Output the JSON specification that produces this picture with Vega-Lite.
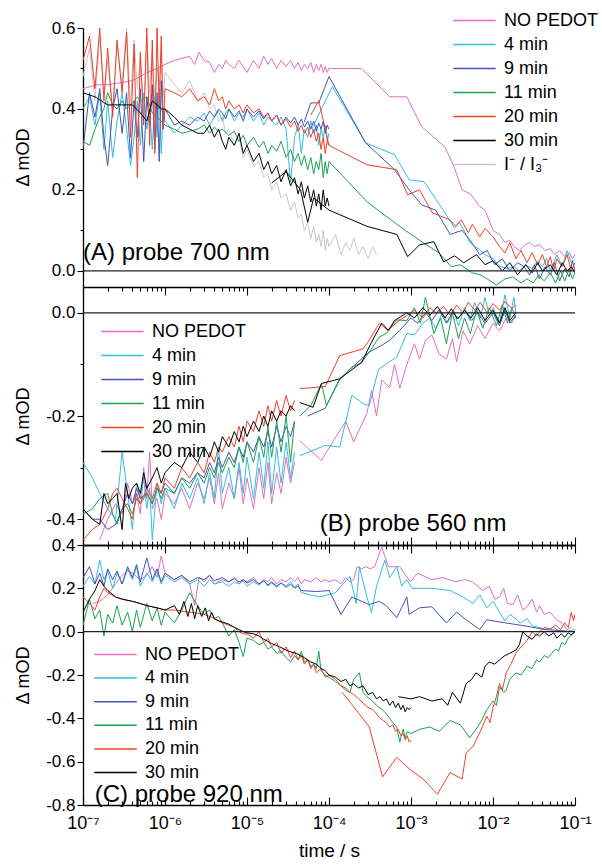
{
"$schema":"https://vega.github.io/schema/vega-lite/v6.json",
"padding":{"left":14,"top":11,"right":0,"bottom":0},
"spacing":0,
"bounds":"flush",
"resolve":{"scale":{"color":"independent"},"legend":{"color":"independent"}},
"config":{"view":{"stroke":null},"font":"Liberation Sans",
"axis":{"domainColor":"#000","domainWidth":1.3,"tickColor":"#000","tickWidth":1.1,"labelColor":"#000","labelFont":"Liberation Sans","labelFontSize":17,"titleFont":"Liberation Sans","titleFontWeight":"normal","titleColor":"#000","titleFontSize":18,"grid":false,"labelOverlap":false,"labelFlush":false},
"legend":{"orient":"none","title":null,"symbolType":"M-2.5,0H2.5","symbolSize":289,"symbolStrokeWidth":1.5,"labelFontSize":18,"labelFont":"Liberation Sans","labelColor":"#000","labelOffset":20,"padding":0,"labelLimit":300}},
"datasets":{
"A":[
{"s":"I","t":1e-7,"v":0.48},{"s":"I","t":1.2e-7,"v":0.55},{"s":"I","t":1.4e-7,"v":0.42},{"s":"I","t":1.6e-7,"v":0.58},{"s":"I","t":1.8e-7,"v":0.44},{"s":"I","t":2e-7,"v":0.52},{"s":"I","t":2.3e-7,"v":0.40},{"s":"I","t":2.6e-7,"v":0.56},{"s":"I","t":3e-7,"v":0.46},{"s":"I","t":3.4e-7,"v":0.60},{"s":"I","t":3.8e-7,"v":0.41},{"s":"I","t":4.2e-7,"v":0.57},{"s":"I","t":4.6e-7,"v":0.45},{"s":"I","t":5e-7,"v":0.53},{"s":"I","t":5.5e-7,"v":0.38},{"s":"I","t":6e-7,"v":0.58},{"s":"I","t":6.5e-7,"v":0.44},{"s":"I","t":7e-7,"v":0.55},{"s":"I","t":7.5e-7,"v":0.42},{"s":"I","t":8e-7,"v":0.50},{"s":"I","t":8.5e-7,"v":0.46},{"s":"I","t":9e-7,"v":0.54},{"s":"I","t":9.5e-7,"v":0.43},{"s":"I","t":1e-6,"v":0.49},{"s":"I","t":1.3e-6,"v":0.46},{"s":"I","t":1.6e-6,"v":0.44},{"s":"I","t":2e-6,"v":0.47},{"s":"I","t":2.5e-6,"v":0.42},{"s":"I","t":3e-6,"v":0.44},{"s":"I","t":3.5e-6,"v":0.40},{"s":"I","t":4e-6,"v":0.41},{"s":"I","t":4.5e-6,"v":0.37},{"s":"I","t":5e-6,"v":0.38},{"s":"I","t":5.5e-6,"v":0.34},{"s":"I","t":6e-6,"v":0.35},{"s":"I","t":7e-6,"v":0.31},{"s":"I","t":8e-6,"v":0.33},{"s":"I","t":9e-6,"v":0.28},{"s":"I","t":1e-5,"v":0.30},{"s":"I","t":1.2e-5,"v":0.26},{"s":"I","t":1.4e-5,"v":0.27},{"s":"I","t":1.6e-5,"v":0.23},{"s":"I","t":1.8e-5,"v":0.24},{"s":"I","t":2e-5,"v":0.20},{"s":"I","t":2.3e-5,"v":0.22},{"s":"I","t":2.6e-5,"v":0.18},{"s":"I","t":3e-5,"v":0.19},{"s":"I","t":3.4e-5,"v":0.15},{"s":"I","t":3.8e-5,"v":0.17},{"s":"I","t":4.2e-5,"v":0.13},{"s":"I","t":4.6e-5,"v":0.14},{"s":"I","t":5e-5,"v":0.10},{"s":"I","t":5.5e-5,"v":0.12},{"s":"I","t":6e-5,"v":0.08},{"s":"I","t":6.5e-5,"v":0.11},{"s":"I","t":7e-5,"v":0.07},{"s":"I","t":7.5e-5,"v":0.09},{"s":"I","t":8e-5,"v":0.06},{"s":"I","t":8.5e-5,"v":0.10},{"s":"I","t":9e-5,"v":0.05},{"s":"I","t":9.5e-5,"v":0.08},{"s":"I","t":1e-4,"v":0.06},{"s":"I","t":1.2e-4,"v":0.09},{"s":"I","t":1.4e-4,"v":0.04},{"s":"I","t":1.6e-4,"v":0.07},{"s":"I","t":1.8e-4,"v":0.05},{"s":"I","t":2e-4,"v":0.08},{"s":"I","t":2.3e-4,"v":0.04},{"s":"I","t":2.6e-4,"v":0.06},{"s":"I","t":3e-4,"v":0.03},{"s":"I","t":3.4e-4,"v":0.06},{"s":"I","t":3.8e-4,"v":0.04},
{"s":"N","t":1e-7,"v":0.45},{"s":"N","t":1.5e-7,"v":0.46},{"s":"N","t":2e-7,"v":0.46},{"s":"N","t":3e-7,"v":0.465},{"s":"N","t":4e-7,"v":0.47},{"s":"N","t":5e-7,"v":0.48},{"s":"N","t":6e-7,"v":0.49},{"s":"N","t":8e-7,"v":0.50},{"s":"N","t":1e-6,"v":0.51},{"s":"N","t":1.3e-6,"v":0.52},{"s":"N","t":1.6e-6,"v":0.525},{"s":"N","t":2e-6,"v":0.53},{"s":"N","t":2.3e-6,"v":0.51},{"s":"N","t":2.6e-6,"v":0.54},{"s":"N","t":3e-6,"v":0.52},{"s":"N","t":3.5e-6,"v":0.515},{"s":"N","t":4e-6,"v":0.49},{"s":"N","t":4.5e-6,"v":0.51},{"s":"N","t":5e-6,"v":0.50},{"s":"N","t":5.5e-6,"v":0.52},{"s":"N","t":6e-6,"v":0.51},{"s":"N","t":7e-6,"v":0.50},{"s":"N","t":8e-6,"v":0.52},{"s":"N","t":9e-6,"v":0.505},{"s":"N","t":1e-5,"v":0.49},{"s":"N","t":1.2e-5,"v":0.52},{"s":"N","t":1.4e-5,"v":0.50},{"s":"N","t":1.6e-5,"v":0.53},{"s":"N","t":1.8e-5,"v":0.51},{"s":"N","t":2e-5,"v":0.525},{"s":"N","t":2.3e-5,"v":0.50},{"s":"N","t":2.6e-5,"v":0.52},{"s":"N","t":3e-5,"v":0.505},{"s":"N","t":3.4e-5,"v":0.52},{"s":"N","t":3.8e-5,"v":0.50},{"s":"N","t":4.2e-5,"v":0.515},{"s":"N","t":4.6e-5,"v":0.495},{"s":"N","t":5e-5,"v":0.51},{"s":"N","t":5.5e-5,"v":0.50},{"s":"N","t":6e-5,"v":0.515},{"s":"N","t":6.5e-5,"v":0.49},{"s":"N","t":7e-5,"v":0.51},{"s":"N","t":7.5e-5,"v":0.495},{"s":"N","t":8e-5,"v":0.51},{"s":"N","t":8.5e-5,"v":0.49},{"s":"N","t":9e-5,"v":0.505},{"s":"N","t":9.5e-5,"v":0.49},{"s":"N","t":1e-4,"v":0.50},{"s":"N","t":2.5e-4,"v":0.50},{"s":"N","t":5.5e-4,"v":0.43},{"s":"N","t":8.9e-4,"v":0.43},{"s":"N","t":1.35e-3,"v":0.356},{"s":"N","t":2.6e-3,"v":0.306},{"s":"N","t":3.3e-3,"v":0.26},{"s":"N","t":4.2e-3,"v":0.20},{"s":"N","t":5.3e-3,"v":0.19},{"s":"N","t":6.8e-3,"v":0.16},{"s":"N","t":8e-3,"v":0.15},{"s":"N","t":1e-2,"v":0.10},{"s":"N","t":1.2e-2,"v":0.09},{"s":"N","t":1.4e-2,"v":0.07},{"s":"N","t":1.6e-2,"v":0.075},{"s":"N","t":1.8e-2,"v":0.06},{"s":"N","t":2.1e-2,"v":0.05},{"s":"N","t":2.5e-2,"v":0.065},{"s":"N","t":2.8e-2,"v":0.07},{"s":"N","t":3.2e-2,"v":0.06},{"s":"N","t":3.7e-2,"v":0.065},{"s":"N","t":4.3e-2,"v":0.05},{"s":"N","t":5e-2,"v":0.055},{"s":"N","t":5.6e-2,"v":0.04},{"s":"N","t":6.5e-2,"v":0.05},{"s":"N","t":7.5e-2,"v":0.035},{"s":"N","t":8.5e-2,"v":0.045},{"s":"N","t":9.3e-2,"v":0.03},{"s":"N","t":0.1,"v":0.04},
{"s":"4","t":1e-7,"v":0.40},{"s":"4","t":1.2e-7,"v":0.43},{"s":"4","t":1.4e-7,"v":0.36},{"s":"4","t":1.6e-7,"v":0.44},{"s":"4","t":1.8e-7,"v":0.30},{"s":"4","t":2e-7,"v":0.42},{"s":"4","t":2.3e-7,"v":0.28},{"s":"4","t":2.6e-7,"v":0.37},{"s":"4","t":3e-7,"v":0.44},{"s":"4","t":3.4e-7,"v":0.35},{"s":"4","t":3.8e-7,"v":0.26},{"s":"4","t":4.2e-7,"v":0.33},{"s":"4","t":4.6e-7,"v":0.42},{"s":"4","t":5e-7,"v":0.31},{"s":"4","t":5.5e-7,"v":0.44},{"s":"4","t":6e-7,"v":0.35},{"s":"4","t":6.5e-7,"v":0.40},{"s":"4","t":7e-7,"v":0.30},{"s":"4","t":7.5e-7,"v":0.43},{"s":"4","t":8e-7,"v":0.33},{"s":"4","t":8.5e-7,"v":0.45},{"s":"4","t":9e-7,"v":0.29},{"s":"4","t":9.5e-7,"v":0.40},{"s":"4","t":1e-6,"v":0.37},{"s":"4","t":1.3e-6,"v":0.34},{"s":"4","t":1.6e-6,"v":0.36},{"s":"4","t":2e-6,"v":0.38},{"s":"4","t":2.5e-6,"v":0.37},{"s":"4","t":3e-6,"v":0.39},{"s":"4","t":3.5e-6,"v":0.36},{"s":"4","t":4e-6,"v":0.38},{"s":"4","t":4.5e-6,"v":0.395},{"s":"4","t":5e-6,"v":0.37},{"s":"4","t":5.5e-6,"v":0.39},{"s":"4","t":6e-6,"v":0.40},{"s":"4","t":7e-6,"v":0.37},{"s":"4","t":8e-6,"v":0.39},{"s":"4","t":9e-6,"v":0.38},{"s":"4","t":1e-5,"v":0.40},{"s":"4","t":1.2e-5,"v":0.37},{"s":"4","t":1.4e-5,"v":0.39},{"s":"4","t":1.6e-5,"v":0.36},{"s":"4","t":1.8e-5,"v":0.38},{"s":"4","t":2e-5,"v":0.37},{"s":"4","t":2.3e-5,"v":0.36},{"s":"4","t":2.6e-5,"v":0.38},{"s":"4","t":3e-5,"v":0.35},{"s":"4","t":3.4e-5,"v":0.22},{"s":"4","t":3.8e-5,"v":0.33},{"s":"4","t":4.2e-5,"v":0.36},{"s":"4","t":4.6e-5,"v":0.29},{"s":"4","t":5e-5,"v":0.35},{"s":"4","t":5.5e-5,"v":0.33},{"s":"4","t":6e-5,"v":0.37},{"s":"4","t":6.5e-5,"v":0.34},{"s":"4","t":7e-5,"v":0.36},{"s":"4","t":7.5e-5,"v":0.31},{"s":"4","t":8e-5,"v":0.35},{"s":"4","t":8.5e-5,"v":0.33},{"s":"4","t":9e-5,"v":0.36},{"s":"4","t":9.5e-5,"v":0.32},{"s":"4","t":1e-4,"v":0.34},
{"s":"4s","t":6.5e-5,"v":0.36},{"s":"4s","t":1.1e-4,"v":0.455},{"s":"4s","t":2.8e-4,"v":0.316},{"s":"4s","t":6.3e-4,"v":0.287},{"s":"4s","t":9.5e-4,"v":0.225},{"s":"4s","t":1.45e-3,"v":0.22},{"s":"4s","t":2.6e-3,"v":0.143},{"s":"4s","t":3.4e-3,"v":0.106},{"s":"4s","t":3.9e-3,"v":0.12},{"s":"4s","t":4.6e-3,"v":0.094},{"s":"4s","t":5.2e-3,"v":0.07},{"s":"4s","t":6e-3,"v":0.06},{"s":"4s","t":6.9e-3,"v":0.052},{"s":"4s","t":8e-3,"v":0.04},{"s":"4s","t":1e-2,"v":0.03},{"s":"4s","t":1.2e-2,"v":0.012},{"s":"4s","t":1.5e-2,"v":0.005},{"s":"4s","t":1.8e-2,"v":0.01},{"s":"4s","t":2.1e-2,"v":0.0},{"s":"4s","t":2.5e-2,"v":0.015},{"s":"4s","t":3e-2,"v":0.005},{"s":"4s","t":3.5e-2,"v":0.025},{"s":"4s","t":4e-2,"v":0.01},{"s":"4s","t":4.5e-2,"v":0.03},{"s":"4s","t":5e-2,"v":0.0},{"s":"4s","t":5.5e-2,"v":0.02},{"s":"4s","t":6e-2,"v":0.04},{"s":"4s","t":7e-2,"v":0.01},{"s":"4s","t":8e-2,"v":0.05},{"s":"4s","t":9e-2,"v":0.02},{"s":"4s","t":0.1,"v":0.03},
{"s":"9","t":1e-7,"v":0.30},{"s":"9","t":1.2e-7,"v":0.44},{"s":"9","t":1.4e-7,"v":0.38},{"s":"9","t":1.6e-7,"v":0.45},{"s":"9","t":1.8e-7,"v":0.33},{"s":"9","t":2e-7,"v":0.26},{"s":"9","t":2.3e-7,"v":0.40},{"s":"9","t":2.6e-7,"v":0.45},{"s":"9","t":3e-7,"v":0.34},{"s":"9","t":3.4e-7,"v":0.44},{"s":"9","t":3.8e-7,"v":0.28},{"s":"9","t":4.2e-7,"v":0.42},{"s":"9","t":4.6e-7,"v":0.33},{"s":"9","t":5e-7,"v":0.45},{"s":"9","t":5.5e-7,"v":0.27},{"s":"9","t":6e-7,"v":0.43},{"s":"9","t":6.5e-7,"v":0.36},{"s":"9","t":7e-7,"v":0.46},{"s":"9","t":7.5e-7,"v":0.30},{"s":"9","t":8e-7,"v":0.44},{"s":"9","t":8.5e-7,"v":0.27},{"s":"9","t":9e-7,"v":0.47},{"s":"9","t":9.5e-7,"v":0.35},{"s":"9","t":1e-6,"v":0.40},{"s":"9","t":1.3e-6,"v":0.36},{"s":"9","t":1.6e-6,"v":0.37},{"s":"9","t":2e-6,"v":0.36},{"s":"9","t":2.5e-6,"v":0.38},{"s":"9","t":3e-6,"v":0.37},{"s":"9","t":3.5e-6,"v":0.395},{"s":"9","t":4e-6,"v":0.38},{"s":"9","t":4.5e-6,"v":0.40},{"s":"9","t":5e-6,"v":0.39},{"s":"9","t":5.5e-6,"v":0.375},{"s":"9","t":6e-6,"v":0.40},{"s":"9","t":7e-6,"v":0.38},{"s":"9","t":8e-6,"v":0.395},{"s":"9","t":9e-6,"v":0.37},{"s":"9","t":1e-5,"v":0.40},{"s":"9","t":1.2e-5,"v":0.38},{"s":"9","t":1.4e-5,"v":0.395},{"s":"9","t":1.6e-5,"v":0.375},{"s":"9","t":1.8e-5,"v":0.39},{"s":"9","t":2e-5,"v":0.37},{"s":"9","t":2.3e-5,"v":0.385},{"s":"9","t":2.6e-5,"v":0.36},{"s":"9","t":3e-5,"v":0.38},{"s":"9","t":3.4e-5,"v":0.365},{"s":"9","t":3.8e-5,"v":0.38},{"s":"9","t":4.2e-5,"v":0.36},{"s":"9","t":4.6e-5,"v":0.375},{"s":"9","t":5e-5,"v":0.355},{"s":"9","t":5.5e-5,"v":0.37},{"s":"9","t":6e-5,"v":0.35},{"s":"9","t":6.5e-5,"v":0.37},{"s":"9","t":7e-5,"v":0.345},{"s":"9","t":7.5e-5,"v":0.365},{"s":"9","t":8e-5,"v":0.35},{"s":"9","t":8.5e-5,"v":0.37},{"s":"9","t":9e-5,"v":0.34},{"s":"9","t":9.5e-5,"v":0.36},{"s":"9","t":1e-4,"v":0.35},
{"s":"9s","t":5e-5,"v":0.368},{"s":"9s","t":6e-5,"v":0.415},{"s":"9s","t":7.5e-5,"v":0.415},{"s":"9s","t":1e-4,"v":0.48},{"s":"9s","t":2.8e-4,"v":0.316},{"s":"9s","t":6.3e-4,"v":0.25},{"s":"9s","t":9.5e-4,"v":0.20},{"s":"9s","t":1.35e-3,"v":0.163},{"s":"9s","t":2e-3,"v":0.15},{"s":"9s","t":3e-3,"v":0.09},{"s":"9s","t":4.2e-3,"v":0.10},{"s":"9s","t":5.2e-3,"v":0.077},{"s":"9s","t":6.9e-3,"v":0.04},{"s":"9s","t":8.5e-3,"v":0.05},{"s":"9s","t":1.05e-2,"v":0.015},{"s":"9s","t":1.3e-2,"v":0.03},{"s":"9s","t":1.6e-2,"v":0.0},{"s":"9s","t":2e-2,"v":0.02},{"s":"9s","t":2.4e-2,"v":0.01},{"s":"9s","t":2.8e-2,"v":-0.01},{"s":"9s","t":3.2e-2,"v":0.015},{"s":"9s","t":3.7e-2,"v":-0.02},{"s":"9s","t":4.3e-2,"v":0.01},{"s":"9s","t":5e-2,"v":-0.01},{"s":"9s","t":5.6e-2,"v":0.02},{"s":"9s","t":6.5e-2,"v":-0.025},{"s":"9s","t":7.5e-2,"v":0.005},{"s":"9s","t":8.5e-2,"v":-0.015},{"s":"9s","t":9.3e-2,"v":0.025},{"s":"9s","t":0.1,"v":0.0},
{"s":"11","t":1e-7,"v":0.32},{"s":"11","t":1.2e-7,"v":0.31},{"s":"11","t":1.4e-7,"v":0.35},{"s":"11","t":1.6e-7,"v":0.38},{"s":"11","t":1.8e-7,"v":0.40},{"s":"11","t":2e-7,"v":0.44},{"s":"11","t":2.3e-7,"v":0.41},{"s":"11","t":2.6e-7,"v":0.40},{"s":"11","t":3e-7,"v":0.42},{"s":"11","t":3.4e-7,"v":0.40},{"s":"11","t":3.8e-7,"v":0.41},{"s":"11","t":4.2e-7,"v":0.42},{"s":"11","t":4.6e-7,"v":0.43},{"s":"11","t":5e-7,"v":0.42},{"s":"11","t":6e-7,"v":0.43},{"s":"11","t":7e-7,"v":0.39},{"s":"11","t":8e-7,"v":0.38},{"s":"11","t":9e-7,"v":0.37},{"s":"11","t":1e-6,"v":0.36},{"s":"11","t":1.3e-6,"v":0.35},{"s":"11","t":1.6e-6,"v":0.34},{"s":"11","t":2e-6,"v":0.345},{"s":"11","t":2.5e-6,"v":0.35},{"s":"11","t":3e-6,"v":0.36},{"s":"11","t":3.5e-6,"v":0.34},{"s":"11","t":4e-6,"v":0.355},{"s":"11","t":4.5e-6,"v":0.345},{"s":"11","t":5e-6,"v":0.35},{"s":"11","t":6e-6,"v":0.335},{"s":"11","t":7e-6,"v":0.345},{"s":"11","t":8e-6,"v":0.32},{"s":"11","t":9e-6,"v":0.335},{"s":"11","t":1e-5,"v":0.31},{"s":"11","t":1.2e-5,"v":0.33},{"s":"11","t":1.4e-5,"v":0.305},{"s":"11","t":1.6e-5,"v":0.32},{"s":"11","t":1.8e-5,"v":0.29},{"s":"11","t":2e-5,"v":0.31},{"s":"11","t":2.3e-5,"v":0.295},{"s":"11","t":2.6e-5,"v":0.32},{"s":"11","t":3e-5,"v":0.28},{"s":"11","t":3.4e-5,"v":0.30},{"s":"11","t":3.8e-5,"v":0.27},{"s":"11","t":4.2e-5,"v":0.29},{"s":"11","t":4.6e-5,"v":0.26},{"s":"11","t":5e-5,"v":0.285},{"s":"11","t":5.5e-5,"v":0.25},{"s":"11","t":6e-5,"v":0.28},{"s":"11","t":6.5e-5,"v":0.24},{"s":"11","t":7e-5,"v":0.27},{"s":"11","t":7.5e-5,"v":0.25},{"s":"11","t":8e-5,"v":0.29},{"s":"11","t":8.5e-5,"v":0.23},{"s":"11","t":9e-5,"v":0.27},{"s":"11","t":9.5e-5,"v":0.24},{"s":"11","t":1e-4,"v":0.27},{"s":"11","t":3e-4,"v":0.168},{"s":"11","t":8.5e-4,"v":0.10},{"s":"11","t":1.4e-3,"v":0.07},{"s":"11","t":2.2e-3,"v":0.044},{"s":"11","t":3.1e-3,"v":0.01},{"s":"11","t":4e-3,"v":0.015},{"s":"11","t":5.6e-3,"v":-0.005},{"s":"11","t":7e-3,"v":-0.01},{"s":"11","t":8.5e-3,"v":-0.02},{"s":"11","t":1.1e-2,"v":-0.035},{"s":"11","t":1.4e-2,"v":-0.02},{"s":"11","t":1.75e-2,"v":-0.015},{"s":"11","t":2.2e-2,"v":-0.03},{"s":"11","t":2.6e-2,"v":-0.02},{"s":"11","t":3.1e-2,"v":-0.03},{"s":"11","t":3.6e-2,"v":-0.01},{"s":"11","t":4.2e-2,"v":-0.025},{"s":"11","t":5e-2,"v":-0.005},{"s":"11","t":5.8e-2,"v":-0.03},{"s":"11","t":6.7e-2,"v":0.0},{"s":"11","t":7.5e-2,"v":-0.025},{"s":"11","t":8.5e-2,"v":0.005},{"s":"11","t":9.3e-2,"v":-0.02},{"s":"11","t":0.1,"v":-0.005},
{"s":"20","t":1e-7,"v":0.52},{"s":"20","t":1.2e-7,"v":0.58},{"s":"20","t":1.4e-7,"v":0.45},{"s":"20","t":1.6e-7,"v":0.60},{"s":"20","t":1.8e-7,"v":0.42},{"s":"20","t":2e-7,"v":0.55},{"s":"20","t":2.3e-7,"v":0.38},{"s":"20","t":2.6e-7,"v":0.57},{"s":"20","t":3e-7,"v":0.44},{"s":"20","t":3.4e-7,"v":0.59},{"s":"20","t":3.8e-7,"v":0.33},{"s":"20","t":4.2e-7,"v":0.56},{"s":"20","t":4.6e-7,"v":0.23},{"s":"20","t":5e-7,"v":0.54},{"s":"20","t":5.5e-7,"v":0.36},{"s":"20","t":6e-7,"v":0.60},{"s":"20","t":6.5e-7,"v":0.31},{"s":"20","t":7e-7,"v":0.57},{"s":"20","t":7.5e-7,"v":0.29},{"s":"20","t":8e-7,"v":0.60},{"s":"20","t":8.5e-7,"v":0.40},{"s":"20","t":9e-7,"v":0.58},{"s":"20","t":9.5e-7,"v":0.35},{"s":"20","t":1e-6,"v":0.45},{"s":"20","t":1.3e-6,"v":0.44},{"s":"20","t":1.6e-6,"v":0.43},{"s":"20","t":2e-6,"v":0.45},{"s":"20","t":2.5e-6,"v":0.42},{"s":"20","t":3e-6,"v":0.43},{"s":"20","t":3.5e-6,"v":0.41},{"s":"20","t":4e-6,"v":0.45},{"s":"20","t":4.5e-6,"v":0.42},{"s":"20","t":5e-6,"v":0.43},{"s":"20","t":5.5e-6,"v":0.40},{"s":"20","t":6e-6,"v":0.42},{"s":"20","t":7e-6,"v":0.40},{"s":"20","t":8e-6,"v":0.41},{"s":"20","t":9e-6,"v":0.39},{"s":"20","t":1e-5,"v":0.41},{"s":"20","t":1.2e-5,"v":0.39},{"s":"20","t":1.4e-5,"v":0.40},{"s":"20","t":1.6e-5,"v":0.38},{"s":"20","t":1.8e-5,"v":0.39},{"s":"20","t":2e-5,"v":0.37},{"s":"20","t":2.3e-5,"v":0.385},{"s":"20","t":2.6e-5,"v":0.36},{"s":"20","t":3e-5,"v":0.375},{"s":"20","t":3.4e-5,"v":0.355},{"s":"20","t":3.8e-5,"v":0.37},{"s":"20","t":4.2e-5,"v":0.345},{"s":"20","t":4.6e-5,"v":0.36},{"s":"20","t":5e-5,"v":0.34},{"s":"20","t":5.5e-5,"v":0.355},{"s":"20","t":6e-5,"v":0.33},{"s":"20","t":6.5e-5,"v":0.35},{"s":"20","t":7e-5,"v":0.32},{"s":"20","t":7.5e-5,"v":0.34},{"s":"20","t":8e-5,"v":0.30},{"s":"20","t":8.5e-5,"v":0.33},{"s":"20","t":9e-5,"v":0.29},{"s":"20","t":9.5e-5,"v":0.32},{"s":"20","t":1e-4,"v":0.31},
{"s":"20s","t":6e-5,"v":0.385},{"s":"20s","t":7.5e-5,"v":0.42},{"s":"20s","t":1e-4,"v":0.31},{"s":"20s","t":2.9e-4,"v":0.262},{"s":"20s","t":6.7e-4,"v":0.25},{"s":"20s","t":9.1e-4,"v":0.188},{"s":"20s","t":1.27e-3,"v":0.20},{"s":"20s","t":1.83e-3,"v":0.143},{"s":"20s","t":3e-3,"v":0.126},{"s":"20s","t":3.5e-3,"v":0.11},{"s":"20s","t":4.1e-3,"v":0.126},{"s":"20s","t":5e-3,"v":0.094},{"s":"20s","t":5.6e-3,"v":0.115},{"s":"20s","t":6.9e-3,"v":0.084},{"s":"20s","t":8e-3,"v":0.105},{"s":"20s","t":1e-2,"v":0.084},{"s":"20s","t":1.2e-2,"v":0.06},{"s":"20s","t":1.4e-2,"v":0.044},{"s":"20s","t":1.6e-2,"v":0.07},{"s":"20s","t":1.9e-2,"v":0.03},{"s":"20s","t":2.2e-2,"v":0.05},{"s":"20s","t":2.6e-2,"v":0.02},{"s":"20s","t":3e-2,"v":0.045},{"s":"20s","t":3.5e-2,"v":0.015},{"s":"20s","t":4e-2,"v":0.04},{"s":"20s","t":4.5e-2,"v":0.01},{"s":"20s","t":5e-2,"v":0.035},{"s":"20s","t":5.5e-2,"v":0.0},{"s":"20s","t":6e-2,"v":0.03},{"s":"20s","t":7e-2,"v":0.01},{"s":"20s","t":8e-2,"v":0.04},{"s":"20s","t":9e-2,"v":0.0},{"s":"20s","t":0.1,"v":0.02},
{"s":"30","t":1e-7,"v":0.44},{"s":"30","t":1.4e-7,"v":0.43},{"s":"30","t":2e-7,"v":0.41},{"s":"30","t":3e-7,"v":0.41},{"s":"30","t":4e-7,"v":0.41},{"s":"30","t":5e-7,"v":0.39},{"s":"30","t":6e-7,"v":0.37},{"s":"30","t":7e-7,"v":0.42},{"s":"30","t":8e-7,"v":0.41},{"s":"30","t":9e-7,"v":0.40},{"s":"30","t":1e-6,"v":0.40},{"s":"30","t":1.3e-6,"v":0.38},{"s":"30","t":1.6e-6,"v":0.36},{"s":"30","t":2e-6,"v":0.35},{"s":"30","t":2.5e-6,"v":0.34},{"s":"30","t":3e-6,"v":0.34},{"s":"30","t":3.5e-6,"v":0.36},{"s":"30","t":4e-6,"v":0.33},{"s":"30","t":4.5e-6,"v":0.35},{"s":"30","t":5e-6,"v":0.32},{"s":"30","t":5.5e-6,"v":0.30},{"s":"30","t":6e-6,"v":0.33},{"s":"30","t":7e-6,"v":0.31},{"s":"30","t":8e-6,"v":0.34},{"s":"30","t":9e-6,"v":0.29},{"s":"30","t":1e-5,"v":0.31},{"s":"30","t":1.2e-5,"v":0.27},{"s":"30","t":1.4e-5,"v":0.29},{"s":"30","t":1.6e-5,"v":0.25},{"s":"30","t":1.8e-5,"v":0.27},{"s":"30","t":2e-5,"v":0.24},{"s":"30","t":2.3e-5,"v":0.26},{"s":"30","t":2.6e-5,"v":0.22},{"s":"30","t":3e-5,"v":0.25},{"s":"30","t":3.4e-5,"v":0.21},{"s":"30","t":3.8e-5,"v":0.23},{"s":"30","t":4.2e-5,"v":0.19},{"s":"30","t":4.6e-5,"v":0.22},{"s":"30","t":5e-5,"v":0.18},{"s":"30","t":5.5e-5,"v":0.21},{"s":"30","t":6e-5,"v":0.17},{"s":"30","t":6.5e-5,"v":0.20},{"s":"30","t":7e-5,"v":0.16},{"s":"30","t":7.5e-5,"v":0.19},{"s":"30","t":8e-5,"v":0.15},{"s":"30","t":8.5e-5,"v":0.20},{"s":"30","t":9e-5,"v":0.16},{"s":"30","t":9.5e-5,"v":0.18},{"s":"30","t":1e-4,"v":0.16},
{"s":"30s","t":2e-5,"v":0.217},{"s":"30s","t":3e-5,"v":0.245},{"s":"30s","t":4.5e-5,"v":0.20},{"s":"30s","t":5.5e-5,"v":0.12},{"s":"30s","t":6.5e-5,"v":0.18},{"s":"30s","t":1e-4,"v":0.15},{"s":"30s","t":2.9e-4,"v":0.11},{"s":"30s","t":6.7e-4,"v":0.09},{"s":"30s","t":9.1e-4,"v":0.035},{"s":"30s","t":1.27e-3,"v":0.064},{"s":"30s","t":1.9e-3,"v":0.072},{"s":"30s","t":2.5e-3,"v":0.022},{"s":"30s","t":3.4e-3,"v":0.037},{"s":"30s","t":4.4e-3,"v":0.02},{"s":"30s","t":6.3e-3,"v":0.04},{"s":"30s","t":8e-3,"v":0.015},{"s":"30s","t":1e-2,"v":0.025},{"s":"30s","t":1.3e-2,"v":0.0},{"s":"30s","t":1.6e-2,"v":0.02},{"s":"30s","t":2e-2,"v":-0.01},{"s":"30s","t":2.5e-2,"v":0.015},{"s":"30s","t":3e-2,"v":-0.005},{"s":"30s","t":3.5e-2,"v":0.02},{"s":"30s","t":4e-2,"v":0.0},{"s":"30s","t":5e-2,"v":0.015},{"s":"30s","t":6e-2,"v":-0.01},{"s":"30s","t":7e-2,"v":0.02},{"s":"30s","t":8e-2,"v":0.0},{"s":"30s","t":9e-2,"v":0.01},{"s":"30s","t":0.1,"v":-0.005}
],
"B":[
{"s":"N","t":1.6e-7,"v":-0.44},{"s":"N","t":2e-7,"v":-0.40},{"s":"N","t":2.5e-7,"v":-0.37},{"s":"N","t":3e-7,"v":-0.39},{"s":"N","t":3.5e-7,"v":-0.33},{"s":"N","t":4e-7,"v":-0.37},{"s":"N","t":4.5e-7,"v":-0.35},{"s":"N","t":5e-7,"v":-0.39},{"s":"N","t":5.5e-7,"v":-0.30},{"s":"N","t":6e-7,"v":-0.36},{"s":"N","t":6.5e-7,"v":-0.27},{"s":"N","t":7e-7,"v":-0.38},{"s":"N","t":8e-7,"v":-0.36},{"s":"N","t":9e-7,"v":-0.40},{"s":"N","t":1e-6,"v":-0.35},{"s":"N","t":1.3e-6,"v":-0.37},{"s":"N","t":1.6e-6,"v":-0.34},{"s":"N","t":2e-6,"v":-0.38},{"s":"N","t":2.5e-6,"v":-0.33},{"s":"N","t":3e-6,"v":-0.36},{"s":"N","t":3.5e-6,"v":-0.32},{"s":"N","t":4e-6,"v":-0.37},{"s":"N","t":4.5e-6,"v":-0.31},{"s":"N","t":5e-6,"v":-0.38},{"s":"N","t":6e-6,"v":-0.33},{"s":"N","t":7e-6,"v":-0.36},{"s":"N","t":8e-6,"v":-0.30},{"s":"N","t":9e-6,"v":-0.37},{"s":"N","t":1e-5,"v":-0.32},{"s":"N","t":1.2e-5,"v":-0.38},{"s":"N","t":1.4e-5,"v":-0.30},{"s":"N","t":1.6e-5,"v":-0.36},{"s":"N","t":1.8e-5,"v":-0.29},{"s":"N","t":2e-5,"v":-0.37},{"s":"N","t":2.3e-5,"v":-0.31},{"s":"N","t":2.6e-5,"v":-0.35},{"s":"N","t":3e-5,"v":-0.28},{"s":"N","t":3.4e-5,"v":-0.33},{"s":"N","t":3.8e-5,"v":-0.29},
{"s":"Ns","t":4.4e-5,"v":-0.248},{"s":"Ns","t":8.1e-5,"v":-0.286},{"s":"Ns","t":9.3e-5,"v":-0.27},{"s":"Ns","t":1.6e-4,"v":-0.21},{"s":"Ns","t":2e-4,"v":-0.25},{"s":"Ns","t":2.9e-4,"v":-0.195},{"s":"Ns","t":3.3e-4,"v":-0.15},{"s":"Ns","t":3.8e-4,"v":-0.2},{"s":"Ns","t":4.4e-4,"v":-0.13},{"s":"Ns","t":5.5e-4,"v":-0.145},{"s":"Ns","t":6.3e-4,"v":-0.1},{"s":"Ns","t":7.3e-4,"v":-0.146},{"s":"Ns","t":8.9e-4,"v":-0.1},{"s":"Ns","t":1.1e-3,"v":-0.06},{"s":"Ns","t":1.27e-3,"v":-0.09},{"s":"Ns","t":1.5e-3,"v":-0.053},{"s":"Ns","t":1.8e-3,"v":-0.043},{"s":"Ns","t":2.2e-3,"v":-0.08},{"s":"Ns","t":2.7e-3,"v":-0.09},{"s":"Ns","t":3.2e-3,"v":-0.05},{"s":"Ns","t":3.6e-3,"v":-0.095},{"s":"Ns","t":4.3e-3,"v":-0.035},{"s":"Ns","t":5.2e-3,"v":-0.06},{"s":"Ns","t":6.5e-3,"v":-0.025},{"s":"Ns","t":8e-3,"v":-0.05},{"s":"Ns","t":1e-2,"v":-0.02},{"s":"Ns","t":1.2e-2,"v":-0.035},{"s":"Ns","t":1.45e-2,"v":-0.01},{"s":"Ns","t":1.7e-2,"v":-0.02},{"s":"Ns","t":1.9e-2,"v":-0.005},
{"s":"4","t":1e-7,"v":-0.29},{"s":"4","t":1.3e-7,"v":-0.32},{"s":"4","t":1.6e-7,"v":-0.35},{"s":"4","t":2e-7,"v":-0.38},{"s":"4","t":2.5e-7,"v":-0.40},{"s":"4","t":3e-7,"v":-0.27},{"s":"4","t":3.5e-7,"v":-0.35},{"s":"4","t":4e-7,"v":-0.42},{"s":"4","t":4.5e-7,"v":-0.33},{"s":"4","t":5e-7,"v":-0.36},{"s":"4","t":5.5e-7,"v":-0.32},{"s":"4","t":6e-7,"v":-0.38},{"s":"4","t":6.5e-7,"v":-0.34},{"s":"4","t":7e-7,"v":-0.44},{"s":"4","t":8e-7,"v":-0.33},{"s":"4","t":9e-7,"v":-0.37},{"s":"4","t":1e-6,"v":-0.34},{"s":"4","t":1.3e-6,"v":-0.38},{"s":"4","t":1.6e-6,"v":-0.33},{"s":"4","t":2e-6,"v":-0.36},{"s":"4","t":2.5e-6,"v":-0.32},{"s":"4","t":3e-6,"v":-0.37},{"s":"4","t":3.5e-6,"v":-0.31},{"s":"4","t":4e-6,"v":-0.36},{"s":"4","t":4.5e-6,"v":-0.26},{"s":"4","t":5e-6,"v":-0.35},{"s":"4","t":6e-6,"v":-0.30},{"s":"4","t":7e-6,"v":-0.36},{"s":"4","t":8e-6,"v":-0.29},{"s":"4","t":9e-6,"v":-0.35},{"s":"4","t":1e-5,"v":-0.28},{"s":"4","t":1.2e-5,"v":-0.36},{"s":"4","t":1.4e-5,"v":-0.27},{"s":"4","t":1.6e-5,"v":-0.34},{"s":"4","t":1.8e-5,"v":-0.25},{"s":"4","t":2e-5,"v":-0.35},{"s":"4","t":2.3e-5,"v":-0.26},{"s":"4","t":2.6e-5,"v":-0.33},{"s":"4","t":3e-5,"v":-0.25},{"s":"4","t":3.4e-5,"v":-0.32},{"s":"4","t":3.8e-5,"v":-0.27},
{"s":"4s","t":4.4e-5,"v":-0.277},{"s":"4s","t":9e-5,"v":-0.257},{"s":"4s","t":1.35e-4,"v":-0.26},{"s":"4s","t":1.9e-4,"v":-0.16},{"s":"4s","t":2.6e-4,"v":-0.176},{"s":"4s","t":3.1e-4,"v":-0.18},{"s":"4s","t":4e-4,"v":-0.11},{"s":"4s","t":5.3e-4,"v":-0.096},{"s":"4s","t":6.7e-4,"v":-0.086},{"s":"4s","t":8.9e-4,"v":-0.04},{"s":"4s","t":1.1e-3,"v":-0.043},{"s":"4s","t":1.4e-3,"v":-0.02},{"s":"4s","t":1.7e-3,"v":-0.01},{"s":"4s","t":2e-3,"v":-0.03},{"s":"4s","t":2.4e-3,"v":0.0},{"s":"4s","t":2.8e-3,"v":-0.02},{"s":"4s","t":3.3e-3,"v":0.005},{"s":"4s","t":3.8e-3,"v":-0.025},{"s":"4s","t":4.5e-3,"v":0.01},{"s":"4s","t":5.2e-3,"v":-0.015},{"s":"4s","t":6e-3,"v":0.02},{"s":"4s","t":7e-3,"v":-0.01},{"s":"4s","t":8e-3,"v":0.03},{"s":"4s","t":9e-3,"v":-0.005},{"s":"4s","t":1e-2,"v":0.01},{"s":"4s","t":1.2e-2,"v":-0.02},{"s":"4s","t":1.4e-2,"v":0.035},{"s":"4s","t":1.6e-2,"v":-0.01},{"s":"4s","t":1.8e-2,"v":0.03},{"s":"4s","t":1.9e-2,"v":0.0},
{"s":"9","t":1e-7,"v":-0.38},{"s":"9","t":1.3e-7,"v":-0.40},{"s":"9","t":1.6e-7,"v":-0.40},{"s":"9","t":2e-7,"v":-0.42},{"s":"9","t":2.5e-7,"v":-0.41},{"s":"9","t":3e-7,"v":-0.38},{"s":"9","t":3.5e-7,"v":-0.35},{"s":"9","t":4e-7,"v":-0.37},{"s":"9","t":4.5e-7,"v":-0.34},{"s":"9","t":5e-7,"v":-0.36},{"s":"9","t":6e-7,"v":-0.35},{"s":"9","t":7e-7,"v":-0.37},{"s":"9","t":8e-7,"v":-0.34},{"s":"9","t":9e-7,"v":-0.35},{"s":"9","t":1e-6,"v":-0.33},{"s":"9","t":1.3e-6,"v":-0.35},{"s":"9","t":1.6e-6,"v":-0.32},{"s":"9","t":2e-6,"v":-0.33},{"s":"9","t":2.5e-6,"v":-0.31},{"s":"9","t":3e-6,"v":-0.32},{"s":"9","t":3.5e-6,"v":-0.29},{"s":"9","t":4e-6,"v":-0.31},{"s":"9","t":4.5e-6,"v":-0.28},{"s":"9","t":5e-6,"v":-0.30},{"s":"9","t":6e-6,"v":-0.27},{"s":"9","t":7e-6,"v":-0.29},{"s":"9","t":8e-6,"v":-0.26},{"s":"9","t":9e-6,"v":-0.28},{"s":"9","t":1e-5,"v":-0.25},{"s":"9","t":1.2e-5,"v":-0.27},{"s":"9","t":1.4e-5,"v":-0.24},{"s":"9","t":1.6e-5,"v":-0.26},{"s":"9","t":1.8e-5,"v":-0.23},{"s":"9","t":2e-5,"v":-0.26},{"s":"9","t":2.3e-5,"v":-0.22},{"s":"9","t":2.6e-5,"v":-0.25},{"s":"9","t":3e-5,"v":-0.22},{"s":"9","t":3.4e-5,"v":-0.24},{"s":"9","t":3.8e-5,"v":-0.21},
{"s":"9s","t":5.5e-5,"v":-0.2},{"s":"9s","t":9e-5,"v":-0.185},{"s":"9s","t":1.35e-4,"v":-0.128},{"s":"9s","t":2.2e-4,"v":-0.097},{"s":"9s","t":3.1e-4,"v":-0.076},{"s":"9s","t":4.4e-4,"v":-0.063},{"s":"9s","t":5.5e-4,"v":-0.053},{"s":"9s","t":7.3e-4,"v":-0.034},{"s":"9s","t":1e-3,"v":-0.01},{"s":"9s","t":1.2e-3,"v":-0.02},{"s":"9s","t":1.5e-3,"v":0.0},{"s":"9s","t":1.8e-3,"v":-0.015},{"s":"9s","t":2.2e-3,"v":0.005},{"s":"9s","t":2.7e-3,"v":-0.02},{"s":"9s","t":3.2e-3,"v":0.0},{"s":"9s","t":3.8e-3,"v":-0.01},{"s":"9s","t":4.5e-3,"v":0.005},{"s":"9s","t":5.5e-3,"v":-0.015},{"s":"9s","t":6.5e-3,"v":0.0},{"s":"9s","t":8e-3,"v":-0.02},{"s":"9s","t":1e-2,"v":0.0},{"s":"9s","t":1.2e-2,"v":-0.025},{"s":"9s","t":1.4e-2,"v":0.005},{"s":"9s","t":1.6e-2,"v":-0.02},{"s":"9s","t":1.9e-2,"v":-0.005},
{"s":"11","t":1e-7,"v":-0.39},{"s":"11","t":1.3e-7,"v":-0.38},{"s":"11","t":1.6e-7,"v":-0.36},{"s":"11","t":2e-7,"v":-0.35},{"s":"11","t":2.3e-7,"v":-0.39},{"s":"11","t":2.6e-7,"v":-0.41},{"s":"11","t":3e-7,"v":-0.38},{"s":"11","t":3.5e-7,"v":-0.37},{"s":"11","t":4e-7,"v":-0.39},{"s":"11","t":4.5e-7,"v":-0.36},{"s":"11","t":5e-7,"v":-0.37},{"s":"11","t":6e-7,"v":-0.35},{"s":"11","t":7e-7,"v":-0.37},{"s":"11","t":8e-7,"v":-0.34},{"s":"11","t":9e-7,"v":-0.36},{"s":"11","t":1e-6,"v":-0.34},{"s":"11","t":1.3e-6,"v":-0.35},{"s":"11","t":1.6e-6,"v":-0.32},{"s":"11","t":2e-6,"v":-0.34},{"s":"11","t":2.5e-6,"v":-0.31},{"s":"11","t":3e-6,"v":-0.33},{"s":"11","t":3.5e-6,"v":-0.30},{"s":"11","t":4e-6,"v":-0.32},{"s":"11","t":4.5e-6,"v":-0.29},{"s":"11","t":5e-6,"v":-0.31},{"s":"11","t":6e-6,"v":-0.28},{"s":"11","t":7e-6,"v":-0.30},{"s":"11","t":8e-6,"v":-0.26},{"s":"11","t":9e-6,"v":-0.29},{"s":"11","t":1e-5,"v":-0.25},{"s":"11","t":1.2e-5,"v":-0.29},{"s":"11","t":1.4e-5,"v":-0.24},{"s":"11","t":1.6e-5,"v":-0.28},{"s":"11","t":1.8e-5,"v":-0.22},{"s":"11","t":2e-5,"v":-0.28},{"s":"11","t":2.3e-5,"v":-0.21},{"s":"11","t":2.6e-5,"v":-0.27},{"s":"11","t":3e-5,"v":-0.20},{"s":"11","t":3.4e-5,"v":-0.29},{"s":"11","t":3.8e-5,"v":-0.21},
{"s":"11s","t":4.4e-5,"v":-0.2},{"s":"11s","t":6e-5,"v":-0.18},{"s":"11s","t":8.1e-5,"v":-0.137},{"s":"11s","t":9.3e-5,"v":-0.18},{"s":"11s","t":1.35e-4,"v":-0.13},{"s":"11s","t":1.9e-4,"v":-0.105},{"s":"11s","t":2.5e-4,"v":-0.097},{"s":"11s","t":3.1e-4,"v":-0.076},{"s":"11s","t":4.1e-4,"v":-0.047},{"s":"11s","t":5e-4,"v":-0.04},{"s":"11s","t":6.7e-4,"v":-0.014},{"s":"11s","t":8.9e-4,"v":-0.015},{"s":"11s","t":1.1e-3,"v":0.01},{"s":"11s","t":1.3e-3,"v":-0.02},{"s":"11s","t":1.5e-3,"v":0.03},{"s":"11s","t":1.9e-3,"v":-0.04},{"s":"11s","t":2.3e-3,"v":-0.01},{"s":"11s","t":2.7e-3,"v":-0.06},{"s":"11s","t":3.2e-3,"v":0.0},{"s":"11s","t":3.8e-3,"v":-0.05},{"s":"11s","t":4.5e-3,"v":-0.01},{"s":"11s","t":5.3e-3,"v":-0.04},{"s":"11s","t":6.3e-3,"v":0.005},{"s":"11s","t":7.5e-3,"v":-0.03},{"s":"11s","t":9e-3,"v":0.01},{"s":"11s","t":1.1e-2,"v":-0.025},{"s":"11s","t":1.3e-2,"v":0.015},{"s":"11s","t":1.5e-2,"v":-0.02},{"s":"11s","t":1.7e-2,"v":0.01},{"s":"11s","t":1.9e-2,"v":-0.01},
{"s":"20","t":1e-7,"v":-0.44},{"s":"20","t":1.3e-7,"v":-0.42},{"s":"20","t":1.6e-7,"v":-0.41},{"s":"20","t":2e-7,"v":-0.38},{"s":"20","t":2.3e-7,"v":-0.35},{"s":"20","t":2.6e-7,"v":-0.34},{"s":"20","t":3e-7,"v":-0.36},{"s":"20","t":3.5e-7,"v":-0.38},{"s":"20","t":4e-7,"v":-0.40},{"s":"20","t":4.5e-7,"v":-0.35},{"s":"20","t":5e-7,"v":-0.37},{"s":"20","t":6e-7,"v":-0.34},{"s":"20","t":7e-7,"v":-0.36},{"s":"20","t":8e-7,"v":-0.33},{"s":"20","t":9e-7,"v":-0.35},{"s":"20","t":1e-6,"v":-0.32},{"s":"20","t":1.3e-6,"v":-0.34},{"s":"20","t":1.6e-6,"v":-0.30},{"s":"20","t":2e-6,"v":-0.32},{"s":"20","t":2.5e-6,"v":-0.29},{"s":"20","t":3e-6,"v":-0.31},{"s":"20","t":3.5e-6,"v":-0.27},{"s":"20","t":4e-6,"v":-0.29},{"s":"20","t":4.5e-6,"v":-0.26},{"s":"20","t":5e-6,"v":-0.27},{"s":"20","t":6e-6,"v":-0.24},{"s":"20","t":7e-6,"v":-0.26},{"s":"20","t":8e-6,"v":-0.22},{"s":"20","t":9e-6,"v":-0.25},{"s":"20","t":1e-5,"v":-0.21},{"s":"20","t":1.2e-5,"v":-0.23},{"s":"20","t":1.4e-5,"v":-0.19},{"s":"20","t":1.6e-5,"v":-0.22},{"s":"20","t":1.8e-5,"v":-0.18},{"s":"20","t":2e-5,"v":-0.21},{"s":"20","t":2.3e-5,"v":-0.17},{"s":"20","t":2.6e-5,"v":-0.20},{"s":"20","t":3e-5,"v":-0.16},{"s":"20","t":3.4e-5,"v":-0.19},{"s":"20","t":3.8e-5,"v":-0.17},
{"s":"20s","t":4.4e-5,"v":-0.147},{"s":"20s","t":9e-5,"v":-0.143},{"s":"20s","t":1.35e-4,"v":-0.083},{"s":"20s","t":2.6e-4,"v":-0.07},{"s":"20s","t":3.1e-4,"v":-0.053},{"s":"20s","t":4.1e-4,"v":-0.02},{"s":"20s","t":5.2e-4,"v":-0.034},{"s":"20s","t":7.3e-4,"v":-0.014},{"s":"20s","t":9e-4,"v":-0.005},{"s":"20s","t":1.1e-3,"v":0.005},{"s":"20s","t":1.4e-3,"v":-0.01},{"s":"20s","t":1.7e-3,"v":0.01},{"s":"20s","t":2e-3,"v":0.0},{"s":"20s","t":2.5e-3,"v":0.012},{"s":"20s","t":3e-3,"v":-0.005},{"s":"20s","t":3.6e-3,"v":0.015},{"s":"20s","t":4.3e-3,"v":0.0},{"s":"20s","t":5e-3,"v":0.02},{"s":"20s","t":6e-3,"v":0.005},{"s":"20s","t":7e-3,"v":0.02},{"s":"20s","t":8.5e-3,"v":0.0},{"s":"20s","t":1e-2,"v":0.018},{"s":"20s","t":1.2e-2,"v":0.005},{"s":"20s","t":1.4e-2,"v":0.022},{"s":"20s","t":1.7e-2,"v":0.008},{"s":"20s","t":1.9e-2,"v":0.015},
{"s":"30","t":1e-7,"v":-0.38},{"s":"30","t":1.3e-7,"v":-0.40},{"s":"30","t":1.6e-7,"v":-0.41},{"s":"30","t":1.8e-7,"v":-0.35},{"s":"30","t":2e-7,"v":-0.37},{"s":"30","t":2.3e-7,"v":-0.36},{"s":"30","t":2.6e-7,"v":-0.35},{"s":"30","t":3e-7,"v":-0.42},{"s":"30","t":3.3e-7,"v":-0.33},{"s":"30","t":3.6e-7,"v":-0.36},{"s":"30","t":4e-7,"v":-0.34},{"s":"30","t":4.5e-7,"v":-0.33},{"s":"30","t":5e-7,"v":-0.35},{"s":"30","t":5.5e-7,"v":-0.31},{"s":"30","t":6e-7,"v":-0.34},{"s":"30","t":7e-7,"v":-0.32},{"s":"30","t":8e-7,"v":-0.30},{"s":"30","t":9e-7,"v":-0.33},{"s":"30","t":1e-6,"v":-0.31},{"s":"30","t":1.3e-6,"v":-0.29},{"s":"30","t":1.6e-6,"v":-0.30},{"s":"30","t":2e-6,"v":-0.27},{"s":"30","t":2.5e-6,"v":-0.29},{"s":"30","t":3e-6,"v":-0.26},{"s":"30","t":3.5e-6,"v":-0.28},{"s":"30","t":4e-6,"v":-0.25},{"s":"30","t":4.5e-6,"v":-0.27},{"s":"30","t":5e-6,"v":-0.24},{"s":"30","t":6e-6,"v":-0.26},{"s":"30","t":7e-6,"v":-0.23},{"s":"30","t":8e-6,"v":-0.25},{"s":"30","t":9e-6,"v":-0.22},{"s":"30","t":1e-5,"v":-0.24},{"s":"30","t":1.2e-5,"v":-0.21},{"s":"30","t":1.4e-5,"v":-0.23},{"s":"30","t":1.6e-5,"v":-0.20},{"s":"30","t":1.8e-5,"v":-0.22},{"s":"30","t":2e-5,"v":-0.19},{"s":"30","t":2.3e-5,"v":-0.21},{"s":"30","t":2.6e-5,"v":-0.19},{"s":"30","t":3e-5,"v":-0.20},{"s":"30","t":3.4e-5,"v":-0.18},{"s":"30","t":3.8e-5,"v":-0.19},
{"s":"30s","t":4.4e-5,"v":-0.174},{"s":"30s","t":6.4e-5,"v":-0.183},{"s":"30s","t":8.1e-5,"v":-0.137},{"s":"30s","t":1.35e-4,"v":-0.128},{"s":"30s","t":2.5e-4,"v":-0.096},{"s":"30s","t":3.3e-4,"v":-0.057},{"s":"30s","t":4.4e-4,"v":-0.02},{"s":"30s","t":5.3e-4,"v":-0.034},{"s":"30s","t":6.3e-4,"v":-0.015},{"s":"30s","t":8.9e-4,"v":0.0},{"s":"30s","t":1.1e-3,"v":-0.01},{"s":"30s","t":1.4e-3,"v":0.01},{"s":"30s","t":1.7e-3,"v":-0.005},{"s":"30s","t":2.1e-3,"v":0.012},{"s":"30s","t":2.6e-3,"v":-0.01},{"s":"30s","t":3.1e-3,"v":0.008},{"s":"30s","t":3.7e-3,"v":-0.012},{"s":"30s","t":4.5e-3,"v":0.005},{"s":"30s","t":5.4e-3,"v":-0.01},{"s":"30s","t":6.5e-3,"v":0.01},{"s":"30s","t":8e-3,"v":-0.015},{"s":"30s","t":1e-2,"v":0.005},{"s":"30s","t":1.2e-2,"v":-0.02},{"s":"30s","t":1.4e-2,"v":0.01},{"s":"30s","t":1.6e-2,"v":-0.015},{"s":"30s","t":1.9e-2,"v":0.0}
],
"C":[
{"s":"N","t":1.3e-7,"v":0.13},{"s":"N","t":1.6e-7,"v":0.14},{"s":"N","t":2e-7,"v":0.17},{"s":"N","t":2.5e-7,"v":0.22},{"s":"N","t":3e-7,"v":0.26},{"s":"N","t":3.5e-7,"v":0.28},{"s":"N","t":4e-7,"v":0.27},{"s":"N","t":5e-7,"v":0.24},{"s":"N","t":6e-7,"v":0.26},{"s":"N","t":7e-7,"v":0.30},{"s":"N","t":8e-7,"v":0.25},{"s":"N","t":9e-7,"v":0.35},{"s":"N","t":1e-6,"v":0.27},{"s":"N","t":1.3e-6,"v":0.24},{"s":"N","t":1.6e-6,"v":0.26},{"s":"N","t":2e-6,"v":0.22},{"s":"N","t":2.3e-6,"v":0.12},{"s":"N","t":2.6e-6,"v":0.25},{"s":"N","t":3e-6,"v":0.23},{"s":"N","t":3.5e-6,"v":0.26},{"s":"N","t":4e-6,"v":0.22},{"s":"N","t":5e-6,"v":0.24},{"s":"N","t":6e-6,"v":0.23},{"s":"N","t":7e-6,"v":0.25},{"s":"N","t":8e-6,"v":0.22},{"s":"N","t":9e-6,"v":0.24},{"s":"N","t":1e-5,"v":0.23},{"s":"N","t":1.2e-5,"v":0.25},{"s":"N","t":1.4e-5,"v":0.22},{"s":"N","t":1.6e-5,"v":0.24},{"s":"N","t":1.8e-5,"v":0.23},{"s":"N","t":2e-5,"v":0.25},{"s":"N","t":2.3e-5,"v":0.22},{"s":"N","t":2.6e-5,"v":0.24},{"s":"N","t":3e-5,"v":0.23},{"s":"N","t":3.4e-5,"v":0.25},{"s":"N","t":3.8e-5,"v":0.23},{"s":"N","t":4.2e-5,"v":0.25},{"s":"N","t":4.6e-5,"v":0.22},{"s":"N","t":5e-5,"v":0.24},{"s":"N","t":6e-5,"v":0.23},{"s":"N","t":7e-5,"v":0.25},{"s":"N","t":8e-5,"v":0.23},{"s":"N","t":9e-5,"v":0.24},{"s":"N","t":1e-4,"v":0.23},{"s":"N","t":1.2e-4,"v":0.24},{"s":"N","t":1.4e-4,"v":0.22},{"s":"N","t":1.6e-4,"v":0.25},{"s":"N","t":1.8e-4,"v":0.23},{"s":"N","t":2e-4,"v":0.24},{"s":"N","t":2.2e-4,"v":0.30},{"s":"N","t":2.5e-4,"v":0.29},{"s":"N","t":2.8e-4,"v":0.30},{"s":"N","t":3.2e-4,"v":0.29},{"s":"N","t":3.6e-4,"v":0.30},{"s":"N","t":4.4e-4,"v":0.39},{"s":"N","t":5.3e-4,"v":0.30},{"s":"N","t":7.3e-4,"v":0.30},{"s":"N","t":9.8e-4,"v":0.23},{"s":"N","t":1.2e-3,"v":0.27},{"s":"N","t":1.8e-3,"v":0.24},{"s":"N","t":2.4e-3,"v":0.25},{"s":"N","t":3.5e-3,"v":0.23},{"s":"N","t":4.5e-3,"v":0.24},{"s":"N","t":5.6e-3,"v":0.23},{"s":"N","t":7.5e-3,"v":0.19},{"s":"N","t":9e-3,"v":0.21},{"s":"N","t":1.05e-2,"v":0.15},{"s":"N","t":1.2e-2,"v":0.16},{"s":"N","t":1.35e-2,"v":0.20},{"s":"N","t":1.5e-2,"v":0.13},{"s":"N","t":1.75e-2,"v":0.125},{"s":"N","t":2e-2,"v":0.17},{"s":"N","t":2.3e-2,"v":0.10},{"s":"N","t":2.6e-2,"v":0.115},{"s":"N","t":3e-2,"v":0.15},{"s":"N","t":3.4e-2,"v":0.09},{"s":"N","t":3.7e-2,"v":0.12},{"s":"N","t":4.2e-2,"v":0.08},{"s":"N","t":5e-2,"v":0.09},{"s":"N","t":5.5e-2,"v":0.07},{"s":"N","t":6e-2,"v":0.055},{"s":"N","t":7e-2,"v":0.04},{"s":"N","t":8e-2,"v":0.01},{"s":"N","t":9e-2,"v":0.02},
{"s":"4","t":1e-7,"v":0.21},{"s":"4","t":1.2e-7,"v":0.255},{"s":"4","t":1.4e-7,"v":0.22},{"s":"4","t":1.6e-7,"v":0.33},{"s":"4","t":1.8e-7,"v":0.24},{"s":"4","t":2e-7,"v":0.28},{"s":"4","t":2.3e-7,"v":0.20},{"s":"4","t":2.6e-7,"v":0.27},{"s":"4","t":3e-7,"v":0.22},{"s":"4","t":3.5e-7,"v":0.29},{"s":"4","t":4e-7,"v":0.24},{"s":"4","t":4.5e-7,"v":0.30},{"s":"4","t":5e-7,"v":0.21},{"s":"4","t":6e-7,"v":0.27},{"s":"4","t":7e-7,"v":0.23},{"s":"4","t":8e-7,"v":0.28},{"s":"4","t":9e-7,"v":0.22},{"s":"4","t":1e-6,"v":0.26},{"s":"4","t":1.3e-6,"v":0.23},{"s":"4","t":1.6e-6,"v":0.25},{"s":"4","t":2e-6,"v":0.22},{"s":"4","t":2.5e-6,"v":0.24},{"s":"4","t":3e-6,"v":0.21},{"s":"4","t":3.5e-6,"v":0.24},{"s":"4","t":4e-6,"v":0.22},{"s":"4","t":5e-6,"v":0.23},{"s":"4","t":6e-6,"v":0.21},{"s":"4","t":7e-6,"v":0.23},{"s":"4","t":8e-6,"v":0.22},{"s":"4","t":9e-6,"v":0.235},{"s":"4","t":1e-5,"v":0.21},{"s":"4","t":1.2e-5,"v":0.23},{"s":"4","t":1.4e-5,"v":0.215},{"s":"4","t":1.6e-5,"v":0.235},{"s":"4","t":1.8e-5,"v":0.21},{"s":"4","t":2e-5,"v":0.225},{"s":"4","t":2.3e-5,"v":0.205},{"s":"4","t":2.6e-5,"v":0.225},{"s":"4","t":3e-5,"v":0.21},{"s":"4","t":3.4e-5,"v":0.23},{"s":"4","t":3.8e-5,"v":0.205},{"s":"4","t":4.2e-5,"v":0.22},{"s":"4","t":4.6e-5,"v":0.18},{"s":"4","t":7.7e-5,"v":0.16},{"s":"4","t":1.2e-4,"v":0.18},{"s":"4","t":1.8e-4,"v":0.255},{"s":"4","t":2.15e-4,"v":0.13},{"s":"4","t":2.35e-4,"v":0.30},{"s":"4","t":2.9e-4,"v":0.16},{"s":"4","t":3.3e-4,"v":0.088},{"s":"4","t":3.8e-4,"v":0.21},{"s":"4","t":4.8e-4,"v":0.33},{"s":"4","t":5.5e-4,"v":0.25},{"s":"4","t":6.7e-4,"v":0.30},{"s":"4","t":7.7e-4,"v":0.21},{"s":"4","t":8.9e-4,"v":0.24},{"s":"4","t":1.03e-3,"v":0.20},{"s":"4","t":1.8e-3,"v":0.20},{"s":"4","t":3e-3,"v":0.19},{"s":"4","t":4.3e-3,"v":0.16},{"s":"4","t":5.7e-3,"v":0.13},{"s":"4","t":6.9e-3,"v":0.17},{"s":"4","t":8.4e-3,"v":0.11},{"s":"4","t":1e-2,"v":0.14},{"s":"4","t":1.2e-2,"v":0.09},{"s":"4","t":1.4e-2,"v":0.05},{"s":"4","t":1.6e-2,"v":0.08},{"s":"4","t":1.75e-2,"v":0.07},{"s":"4","t":2.15e-2,"v":0.04},{"s":"4","t":2.6e-2,"v":0.06},{"s":"4","t":3.05e-2,"v":0.025},{"s":"4","t":3.7e-2,"v":0.02},{"s":"4","t":4.5e-2,"v":0.01},{"s":"4","t":5.5e-2,"v":0.02},{"s":"4","t":6.5e-2,"v":0.0},{"s":"4","t":8e-2,"v":0.0},{"s":"4","t":0.1,"v":0.01},
{"s":"9","t":1e-7,"v":0.25},{"s":"9","t":1.2e-7,"v":0.30},{"s":"9","t":1.4e-7,"v":0.22},{"s":"9","t":1.6e-7,"v":0.27},{"s":"9","t":1.8e-7,"v":0.21},{"s":"9","t":2e-7,"v":0.29},{"s":"9","t":2.3e-7,"v":0.24},{"s":"9","t":2.6e-7,"v":0.28},{"s":"9","t":3e-7,"v":0.22},{"s":"9","t":3.5e-7,"v":0.30},{"s":"9","t":4e-7,"v":0.25},{"s":"9","t":4.5e-7,"v":0.31},{"s":"9","t":5e-7,"v":0.23},{"s":"9","t":6e-7,"v":0.34},{"s":"9","t":7e-7,"v":0.24},{"s":"9","t":8e-7,"v":0.29},{"s":"9","t":9e-7,"v":0.23},{"s":"9","t":1e-6,"v":0.27},{"s":"9","t":1.3e-6,"v":0.24},{"s":"9","t":1.6e-6,"v":0.26},{"s":"9","t":2e-6,"v":0.23},{"s":"9","t":2.5e-6,"v":0.25},{"s":"9","t":3e-6,"v":0.24},{"s":"9","t":3.5e-6,"v":0.26},{"s":"9","t":4e-6,"v":0.235},{"s":"9","t":5e-6,"v":0.25},{"s":"9","t":6e-6,"v":0.23},{"s":"9","t":7e-6,"v":0.245},{"s":"9","t":8e-6,"v":0.23},{"s":"9","t":9e-6,"v":0.24},{"s":"9","t":1e-5,"v":0.225},{"s":"9","t":1.2e-5,"v":0.24},{"s":"9","t":1.4e-5,"v":0.22},{"s":"9","t":1.6e-5,"v":0.235},{"s":"9","t":1.8e-5,"v":0.215},{"s":"9","t":2e-5,"v":0.23},{"s":"9","t":2.3e-5,"v":0.21},{"s":"9","t":2.6e-5,"v":0.225},{"s":"9","t":3e-5,"v":0.205},{"s":"9","t":3.4e-5,"v":0.22},{"s":"9","t":3.8e-5,"v":0.2},{"s":"9","t":4.2e-5,"v":0.21},{"s":"9","t":4.6e-5,"v":0.19},{"s":"9","t":7e-5,"v":0.185},{"s":"9","t":1e-4,"v":0.19},{"s":"9","t":1.4e-4,"v":0.08},{"s":"9","t":1.9e-4,"v":0.16},{"s":"9","t":3.1e-4,"v":0.125},{"s":"9","t":4.1e-4,"v":0.14},{"s":"9","t":5e-4,"v":0.12},{"s":"9","t":6.7e-4,"v":0.065},{"s":"9","t":8.9e-4,"v":0.16},{"s":"9","t":9.5e-4,"v":0.08},{"s":"9","t":1.27e-3,"v":0.11},{"s":"9","t":1.8e-3,"v":0.115},{"s":"9","t":2.7e-3,"v":0.04},{"s":"9","t":3.6e-3,"v":0.09},{"s":"9","t":4.7e-3,"v":0.055},{"s":"9","t":6.9e-3,"v":0.01},{"s":"9","t":8.4e-3,"v":0.055},{"s":"9","t":1.2e-2,"v":0.045},{"s":"9","t":2.15e-2,"v":0.03},{"s":"9","t":3.05e-2,"v":0.02},{"s":"9","t":4.3e-2,"v":0.01},{"s":"9","t":6.6e-2,"v":0.005},{"s":"9","t":0.1,"v":0.0},
{"s":"11","t":1e-7,"v":0.03},{"s":"11","t":1.2e-7,"v":0.15},{"s":"11","t":1.4e-7,"v":0.06},{"s":"11","t":1.6e-7,"v":0.10},{"s":"11","t":1.8e-7,"v":-0.02},{"s":"11","t":2e-7,"v":0.08},{"s":"11","t":2.3e-7,"v":0.04},{"s":"11","t":2.6e-7,"v":0.12},{"s":"11","t":3e-7,"v":0.03},{"s":"11","t":3.5e-7,"v":0.09},{"s":"11","t":4e-7,"v":0.0},{"s":"11","t":4.5e-7,"v":0.10},{"s":"11","t":5e-7,"v":0.02},{"s":"11","t":6e-7,"v":0.13},{"s":"11","t":7e-7,"v":0.05},{"s":"11","t":8e-7,"v":0.11},{"s":"11","t":9e-7,"v":0.03},{"s":"11","t":1e-6,"v":0.09},{"s":"11","t":1.3e-6,"v":0.04},{"s":"11","t":1.6e-6,"v":0.10},{"s":"11","t":2e-6,"v":0.18},{"s":"11","t":2.5e-6,"v":0.12},{"s":"11","t":3e-6,"v":0.08},{"s":"11","t":3.5e-6,"v":0.10},{"s":"11","t":4e-6,"v":0.06},{"s":"11","t":4.5e-6,"v":0.07},{"s":"11","t":5e-6,"v":0.04},{"s":"11","t":6e-6,"v":-0.02},{"s":"11","t":7e-6,"v":0.01},{"s":"11","t":8e-6,"v":-0.05},{"s":"11","t":9e-6,"v":-0.115},{"s":"11","t":1e-5,"v":-0.03},{"s":"11","t":1.2e-5,"v":-0.04},{"s":"11","t":1.4e-5,"v":-0.06},{"s":"11","t":1.6e-5,"v":-0.05},{"s":"11","t":1.8e-5,"v":-0.08},{"s":"11","t":2e-5,"v":-0.07},{"s":"11","t":2.3e-5,"v":-0.10},{"s":"11","t":2.6e-5,"v":-0.09},{"s":"11","t":3e-5,"v":-0.12},{"s":"11","t":3.4e-5,"v":-0.14},{"s":"11","t":3.8e-5,"v":-0.11},{"s":"11","t":4.2e-5,"v":-0.13},{"s":"11","t":4.6e-5,"v":-0.09},{"s":"11","t":5e-5,"v":-0.14},{"s":"11","t":5.5e-5,"v":-0.13},{"s":"11","t":6e-5,"v":-0.16},{"s":"11","t":6.5e-5,"v":-0.15},{"s":"11","t":7e-5,"v":-0.17},{"s":"11","t":7.5e-5,"v":-0.09},{"s":"11","t":8e-5,"v":-0.18},{"s":"11","t":9e-5,"v":-0.20},{"s":"11","t":1e-4,"v":-0.21},{"s":"11","t":1.2e-4,"v":-0.23},{"s":"11","t":1.4e-4,"v":-0.25},{"s":"11","t":1.6e-4,"v":-0.27},{"s":"11","t":1.8e-4,"v":-0.28},{"s":"11","t":2e-4,"v":-0.22},{"s":"11","t":2.35e-4,"v":-0.19},{"s":"11","t":2.6e-4,"v":-0.28},{"s":"11","t":2.9e-4,"v":-0.30},{"s":"11","t":3.4e-4,"v":-0.32},{"s":"11","t":3.8e-4,"v":-0.34},{"s":"11","t":4.5e-4,"v":-0.36},{"s":"11","t":5e-4,"v":-0.38},{"s":"11","t":5.5e-4,"v":-0.40},{"s":"11","t":6e-4,"v":-0.42},{"s":"11","t":6.7e-4,"v":-0.44},{"s":"11","t":7.3e-4,"v":-0.51},{"s":"11","t":8e-4,"v":-0.45},{"s":"11","t":8.5e-4,"v":-0.49},{"s":"11","t":9e-4,"v":-0.46},{"s":"11","t":1e-3,"v":-0.47},{"s":"11","t":1.3e-3,"v":-0.45},{"s":"11","t":1.7e-3,"v":-0.44},{"s":"11","t":2.2e-3,"v":-0.46},{"s":"11","t":3e-3,"v":-0.41},{"s":"11","t":4e-3,"v":-0.43},{"s":"11","t":5.2e-3,"v":-0.49},{"s":"11","t":6.5e-3,"v":-0.44},{"s":"11","t":7.5e-3,"v":-0.40},{"s":"11","t":8.4e-3,"v":-0.36},{"s":"11","t":1e-2,"v":-0.32},{"s":"11","t":1.1e-2,"v":-0.34},{"s":"11","t":1.2e-2,"v":-0.255},{"s":"11","t":1.35e-2,"v":-0.28},{"s":"11","t":1.45e-2,"v":-0.27},{"s":"11","t":1.6e-2,"v":-0.22},{"s":"11","t":1.9e-2,"v":-0.19},{"s":"11","t":2.2e-2,"v":-0.20},{"s":"11","t":2.6e-2,"v":-0.16},{"s":"11","t":3e-2,"v":-0.17},{"s":"11","t":3.4e-2,"v":-0.13},{"s":"11","t":3.7e-2,"v":-0.14},{"s":"11","t":4.2e-2,"v":-0.11},{"s":"11","t":4.7e-2,"v":-0.12},{"s":"11","t":5.2e-2,"v":-0.10},{"s":"11","t":5.8e-2,"v":-0.08},{"s":"11","t":6.3e-2,"v":-0.09},{"s":"11","t":6.9e-2,"v":-0.05},{"s":"11","t":7.5e-2,"v":-0.06},{"s":"11","t":8.3e-2,"v":-0.03},{"s":"11","t":9.3e-2,"v":-0.01},{"s":"11","t":0.1,"v":0.0},
{"s":"20","t":1e-7,"v":0.16},{"s":"20","t":1.2e-7,"v":0.13},{"s":"20","t":1.4e-7,"v":0.10},{"s":"20","t":1.6e-7,"v":0.16},{"s":"20","t":1.8e-7,"v":0.20},{"s":"20","t":2e-7,"v":0.18},{"s":"20","t":2.5e-7,"v":0.16},{"s":"20","t":3e-7,"v":0.15},{"s":"20","t":4e-7,"v":0.14},{"s":"20","t":5e-7,"v":0.13},{"s":"20","t":6e-7,"v":0.12},{"s":"20","t":8e-7,"v":0.11},{"s":"20","t":1e-6,"v":0.10},{"s":"20","t":1.3e-6,"v":0.10},{"s":"20","t":1.6e-6,"v":0.095},{"s":"20","t":2e-6,"v":0.09},{"s":"20","t":2.5e-6,"v":0.085},{"s":"20","t":3e-6,"v":0.08},{"s":"20","t":3.5e-6,"v":0.07},{"s":"20","t":4e-6,"v":0.06},{"s":"20","t":4.5e-6,"v":0.05},{"s":"20","t":5e-6,"v":0.04},{"s":"20","t":6e-6,"v":0.03},{"s":"20","t":7e-6,"v":0.02},{"s":"20","t":8e-6,"v":0.0},{"s":"20","t":9e-6,"v":-0.01},{"s":"20","t":1e-5,"v":-0.01},{"s":"20","t":1.2e-5,"v":-0.03},{"s":"20","t":1.4e-5,"v":0.0},{"s":"20","t":1.6e-5,"v":-0.05},{"s":"20","t":1.8e-5,"v":-0.03},{"s":"20","t":2e-5,"v":-0.07},{"s":"20","t":2.3e-5,"v":-0.05},{"s":"20","t":2.6e-5,"v":-0.10},{"s":"20","t":3e-5,"v":-0.07},{"s":"20","t":3.4e-5,"v":-0.12},{"s":"20","t":3.8e-5,"v":-0.09},{"s":"20","t":4.2e-5,"v":-0.13},{"s":"20","t":4.6e-5,"v":-0.11},{"s":"20","t":5e-5,"v":-0.15},{"s":"20","t":5.5e-5,"v":-0.13},{"s":"20","t":6e-5,"v":-0.17},{"s":"20","t":6.5e-5,"v":-0.15},{"s":"20","t":7e-5,"v":-0.19},{"s":"20","t":8e-5,"v":-0.17},{"s":"20","t":9e-5,"v":-0.21},{"s":"20","t":1e-4,"v":-0.20},{"s":"20","t":1.2e-4,"v":-0.22},{"s":"20","t":1.4e-4,"v":-0.25},{"s":"20","t":1.6e-4,"v":-0.26},{"s":"20","t":1.8e-4,"v":-0.28},{"s":"20","t":2e-4,"v":-0.29},{"s":"20","t":2.3e-4,"v":-0.31},{"s":"20","t":2.6e-4,"v":-0.33},{"s":"20","t":3e-4,"v":-0.35},{"s":"20","t":3.4e-4,"v":-0.36},{"s":"20","t":3.8e-4,"v":-0.38},{"s":"20","t":4.2e-4,"v":-0.40},{"s":"20","t":4.6e-4,"v":-0.41},{"s":"20","t":5e-4,"v":-0.42},{"s":"20","t":5.5e-4,"v":-0.44},{"s":"20","t":6e-4,"v":-0.43},{"s":"20","t":6.5e-4,"v":-0.46},{"s":"20","t":7e-4,"v":-0.45},{"s":"20","t":7.5e-4,"v":-0.48},{"s":"20","t":8e-4,"v":-0.47},{"s":"20","t":8.5e-4,"v":-0.50},{"s":"20","t":9e-4,"v":-0.48},{"s":"20","t":9.5e-4,"v":-0.51},{"s":"20","t":1e-3,"v":-0.50},
{"s":"20s","t":1.45e-4,"v":-0.28},{"s":"20s","t":2.35e-4,"v":-0.38},{"s":"20s","t":3.1e-4,"v":-0.44},{"s":"20s","t":4.5e-4,"v":-0.67},{"s":"20s","t":6.7e-4,"v":-0.58},{"s":"20s","t":1e-3,"v":-0.64},{"s":"20s","t":1.4e-3,"v":-0.68},{"s":"20s","t":2.1e-3,"v":-0.75},{"s":"20s","t":3e-3,"v":-0.65},{"s":"20s","t":4.2e-3,"v":-0.68},{"s":"20s","t":4.7e-3,"v":-0.56},{"s":"20s","t":5.7e-3,"v":-0.53},{"s":"20s","t":7e-3,"v":-0.46},{"s":"20s","t":8.4e-3,"v":-0.39},{"s":"20s","t":9.2e-3,"v":-0.42},{"s":"20s","t":1e-2,"v":-0.35},{"s":"20s","t":1.1e-2,"v":-0.30},{"s":"20s","t":1.2e-2,"v":-0.24},{"s":"20s","t":1.3e-2,"v":-0.27},{"s":"20s","t":1.45e-2,"v":-0.19},{"s":"20s","t":1.65e-2,"v":-0.15},{"s":"20s","t":1.9e-2,"v":-0.10},{"s":"20s","t":2.2e-2,"v":-0.07},{"s":"20s","t":2.6e-2,"v":-0.04},{"s":"20s","t":3e-2,"v":0.0},{"s":"20s","t":3.4e-2,"v":-0.02},{"s":"20s","t":3.7e-2,"v":0.0},{"s":"20s","t":4.3e-2,"v":0.02},{"s":"20s","t":5e-2,"v":0.01},{"s":"20s","t":5.8e-2,"v":0.03},{"s":"20s","t":6.7e-2,"v":0.01},{"s":"20s","t":7.5e-2,"v":0.04},{"s":"20s","t":8.3e-2,"v":0.02},{"s":"20s","t":9e-2,"v":0.09},{"s":"20s","t":9.6e-2,"v":0.05},{"s":"20s","t":0.1,"v":0.08},
{"s":"30","t":1e-7,"v":0.09},{"s":"30","t":1.2e-7,"v":0.15},{"s":"30","t":1.4e-7,"v":0.19},{"s":"30","t":1.6e-7,"v":0.24},{"s":"30","t":1.8e-7,"v":0.21},{"s":"30","t":2e-7,"v":0.19},{"s":"30","t":2.5e-7,"v":0.16},{"s":"30","t":3e-7,"v":0.15},{"s":"30","t":4e-7,"v":0.14},{"s":"30","t":5e-7,"v":0.13},{"s":"30","t":6e-7,"v":0.12},{"s":"30","t":8e-7,"v":0.11},{"s":"30","t":1e-6,"v":0.10},{"s":"30","t":1.3e-6,"v":0.12},{"s":"30","t":1.5e-6,"v":0.08},{"s":"30","t":1.7e-6,"v":0.14},{"s":"30","t":1.9e-6,"v":0.07},{"s":"30","t":2.1e-6,"v":0.13},{"s":"30","t":2.3e-6,"v":0.06},{"s":"30","t":2.5e-6,"v":0.12},{"s":"30","t":2.8e-6,"v":0.07},{"s":"30","t":3.1e-6,"v":0.11},{"s":"30","t":3.4e-6,"v":0.05},{"s":"30","t":3.7e-6,"v":0.09},{"s":"30","t":4e-6,"v":0.06},{"s":"30","t":4.5e-6,"v":0.05},{"s":"30","t":5e-6,"v":0.045},{"s":"30","t":6e-6,"v":0.035},{"s":"30","t":7e-6,"v":0.02},{"s":"30","t":8e-6,"v":0.01},{"s":"30","t":9e-6,"v":0.0},{"s":"30","t":1e-5,"v":-0.005},{"s":"30","t":1.2e-5,"v":-0.01},{"s":"30","t":1.4e-5,"v":-0.02},{"s":"30","t":1.6e-5,"v":-0.035},{"s":"30","t":1.8e-5,"v":-0.045},{"s":"30","t":2e-5,"v":-0.055},{"s":"30","t":2.5e-5,"v":-0.07},{"s":"30","t":3e-5,"v":-0.085},{"s":"30","t":3.5e-5,"v":-0.095},{"s":"30","t":4e-5,"v":-0.1},{"s":"30","t":4.5e-5,"v":-0.11},{"s":"30","t":5e-5,"v":-0.12},{"s":"30","t":6e-5,"v":-0.14},{"s":"30","t":7e-5,"v":-0.15},{"s":"30","t":8e-5,"v":-0.17},{"s":"30","t":9e-5,"v":-0.18},{"s":"30","t":1e-4,"v":-0.2},{"s":"30","t":1.2e-4,"v":-0.21},{"s":"30","t":1.4e-4,"v":-0.23},{"s":"30","t":1.6e-4,"v":-0.22},{"s":"30","t":1.8e-4,"v":-0.25},{"s":"30","t":2e-4,"v":-0.24},{"s":"30","t":2.3e-4,"v":-0.26},{"s":"30","t":2.6e-4,"v":-0.25},{"s":"30","t":3e-4,"v":-0.29},{"s":"30","t":3.4e-4,"v":-0.28},{"s":"30","t":3.8e-4,"v":-0.31},{"s":"30","t":4.2e-4,"v":-0.30},{"s":"30","t":4.6e-4,"v":-0.32},{"s":"30","t":5e-4,"v":-0.31},{"s":"30","t":5.5e-4,"v":-0.34},{"s":"30","t":6e-4,"v":-0.32},{"s":"30","t":6.5e-4,"v":-0.35},{"s":"30","t":7e-4,"v":-0.33},{"s":"30","t":7.5e-4,"v":-0.36},{"s":"30","t":8e-4,"v":-0.34},{"s":"30","t":8.5e-4,"v":-0.37},{"s":"30","t":9e-4,"v":-0.35},{"s":"30","t":9.5e-4,"v":-0.36},{"s":"30","t":1e-3,"v":-0.35},
{"s":"30s","t":7e-4,"v":-0.30},{"s":"30s","t":1e-3,"v":-0.31},{"s":"30s","t":1.27e-3,"v":-0.30},{"s":"30s","t":1.8e-3,"v":-0.32},{"s":"30s","t":2.4e-3,"v":-0.31},{"s":"30s","t":2.8e-3,"v":-0.34},{"s":"30s","t":3.2e-3,"v":-0.28},{"s":"30s","t":4e-3,"v":-0.33},{"s":"30s","t":4.7e-3,"v":-0.24},{"s":"30s","t":5.5e-3,"v":-0.22},{"s":"30s","t":6.2e-3,"v":-0.19},{"s":"30s","t":7.3e-3,"v":-0.21},{"s":"30s","t":8e-3,"v":-0.16},{"s":"30s","t":9e-3,"v":-0.14},{"s":"30s","t":1.05e-2,"v":-0.15},{"s":"30s","t":1.2e-2,"v":-0.13},{"s":"30s","t":1.4e-2,"v":-0.11},{"s":"30s","t":1.6e-2,"v":-0.10},{"s":"30s","t":1.9e-2,"v":-0.085},{"s":"30s","t":2.1e-2,"v":-0.06},{"s":"30s","t":2.3e-2,"v":0.0},{"s":"30s","t":2.6e-2,"v":-0.02},{"s":"30s","t":3e-2,"v":-0.035},{"s":"30s","t":3.4e-2,"v":-0.01},{"s":"30s","t":3.7e-2,"v":-0.02},{"s":"30s","t":4.2e-2,"v":0.0},{"s":"30s","t":4.8e-2,"v":-0.02},{"s":"30s","t":5.5e-2,"v":-0.005},{"s":"30s","t":6e-2,"v":-0.03},{"s":"30s","t":6.8e-2,"v":-0.01},{"s":"30s","t":7.5e-2,"v":-0.025},{"s":"30s","t":8.3e-2,"v":-0.005},{"s":"30s","t":9e-2,"v":-0.015},{"s":"30s","t":0.1,"v":0.0}
]},
"vconcat":[
{"width":492,"height":259,
"layer":[
{"data":{"name":"A"},"mark":{"type":"line","strokeWidth":1,"clip":true},
"encoding":{
"x":{"field":"t","type":"quantitative","scale":{"type":"log","domain":[1e-7,0.1],"nice":false},
"axis":{"orient":"bottom","values":[1e-7,2e-7,3e-7,4e-7,5e-7,6e-7,7e-7,8e-7,9e-7,1e-6,2e-6,3e-6,4e-6,5e-6,6e-6,7e-6,8e-6,9e-6,1e-5,2e-5,3e-5,4e-5,5e-5,6e-5,7e-5,8e-5,9e-5,1e-4,2e-4,3e-4,4e-4,5e-4,6e-4,7e-4,8e-4,9e-4,1e-3,2e-3,3e-3,4e-3,5e-3,6e-3,7e-3,8e-3,9e-3,1e-2,2e-2,3e-2,4e-2,5e-2,6e-2,7e-2,8e-2,9e-2,0.1],"labels":false,"title":null,
"tickSize":{"condition":{"test":"abs(log(datum.value)/LN10 - round(log(datum.value)/LN10)) < 0.001","value":8},"value":4}}},
"y":{"field":"v","type":"quantitative","scale":{"domain":[-0.04,0.6],"nice":false,"zero":false},
"axis":{"values":[0,0.1,0.2,0.3,0.4,0.5,0.6],"labelExpr":"round(datum.value*10)%2==0 ? replace(format(datum.value,'.1f'),'−','-') : ''","labelPadding":2,
"tickSize":{"condition":{"test":"round(datum.value*10)%2==0","value":6},"value":3},"title":"Δ mOD","titleX":-60,"titleY":129,"titleBaseline":"middle"}},
"color":{"field":"s","type":"nominal","scale":{"domain":["N","4","9","11","20","30","I","4s","9s","20s","30s"],"range":["#e070c0","#33bde0","#4452b4","#1aa052","#f0402a","#000000","#c8c8c8","#33bde0","#4452b4","#f0402a","#000000"]},
"legend":{"values":["N","4","9","11","20","30","I"],"legendX":382,"legendY":-17,"rowPadding":5,"labelExpr":"datum.label=='N' ? 'NO PEDOT' : datum.label=='I' ? 'I⁻ / I₃⁻' : datum.label+' min'"}}}},
{"data":{"values":[{}]},"mark":{"type":"rule","color":"#222","strokeWidth":1.3},"encoding":{"y":{"datum":0}}},
{"data":{"values":[{"label":"(A) probe 700 nm","t":1e-7,"v":0.027}]},"mark":{"type":"text","align":"left","baseline":"alphabetic","fontSize":24,"font":"Liberation Sans","dx":0},
"encoding":{"x":{"field":"t","type":"quantitative"},"y":{"field":"v","type":"quantitative"},"text":{"field":"label"}}}
]},
{"width":492,"height":258,
"layer":[
{"data":{"name":"B"},"mark":{"type":"line","strokeWidth":1,"clip":true},
"encoding":{
"x":{"field":"t","type":"quantitative","scale":{"type":"log","domain":[1e-7,0.1],"nice":false},
"axis":{"orient":"bottom","values":[1e-7,2e-7,3e-7,4e-7,5e-7,6e-7,7e-7,8e-7,9e-7,1e-6,2e-6,3e-6,4e-6,5e-6,6e-6,7e-6,8e-6,9e-6,1e-5,2e-5,3e-5,4e-5,5e-5,6e-5,7e-5,8e-5,9e-5,1e-4,2e-4,3e-4,4e-4,5e-4,6e-4,7e-4,8e-4,9e-4,1e-3,2e-3,3e-3,4e-3,5e-3,6e-3,7e-3,8e-3,9e-3,1e-2,2e-2,3e-2,4e-2,5e-2,6e-2,7e-2,8e-2,9e-2,0.1],"labels":false,"title":null,
"tickSize":{"condition":{"test":"abs(log(datum.value)/LN10 - round(log(datum.value)/LN10)) < 0.001","value":-8},"value":-4}}},
"y":{"field":"v","type":"quantitative","scale":{"domain":[-0.45,0.05],"nice":false,"zero":false},
"axis":{"values":[-0.4,-0.3,-0.2,-0.1,0],"labelExpr":"round(datum.value*10)%2==0 ? replace(format(datum.value,'.1f'),'−','-') : ''","labelPadding":2,
"tickSize":{"condition":{"test":"round(datum.value*10)%2==0","value":6},"value":3},"title":"Δ mOD","titleX":-60,"titleY":129,"titleBaseline":"middle"}},
"color":{"field":"s","type":"nominal","scale":{"domain":["N","4","9","11","20","30","Ns","4s","9s","11s","20s","30s"],"range":["#e070c0","#33bde0","#4452b4","#1aa052","#f0402a","#000000","#e070c0","#33bde0","#4452b4","#1aa052","#f0402a","#000000"]},
"legend":{"values":["N","4","9","11","20","30"],"legendX":30,"legendY":35,"rowPadding":5,"labelExpr":"datum.label=='N' ? 'NO PEDOT' : datum.label+' min'"}}}},
{"data":{"values":[{}]},"mark":{"type":"rule","color":"#222","strokeWidth":1.3},"encoding":{"y":{"datum":0}}},
{"data":{"values":[{"label":"(B) probe 560 nm","t":7.7e-5,"v":-0.422}]},"mark":{"type":"text","align":"left","baseline":"alphabetic","fontSize":24,"font":"Liberation Sans"},
"encoding":{"x":{"field":"t","type":"quantitative"},"y":{"field":"v","type":"quantitative"},"text":{"field":"label"}}}
]},
{"width":492,"height":260,
"resolve":{"axis":{"x":"independent"}},
"layer":[
{"data":{"name":"C"},"mark":{"type":"line","strokeWidth":1,"clip":true},
"encoding":{
"x":{"field":"t","type":"quantitative","scale":{"type":"log","domain":[1e-7,0.1],"nice":false},
"axis":{"orient":"bottom","values":[1e-7,2e-7,3e-7,4e-7,5e-7,6e-7,7e-7,8e-7,9e-7,1e-6,2e-6,3e-6,4e-6,5e-6,6e-6,7e-6,8e-6,9e-6,1e-5,2e-5,3e-5,4e-5,5e-5,6e-5,7e-5,8e-5,9e-5,1e-4,2e-4,3e-4,4e-4,5e-4,6e-4,7e-4,8e-4,9e-4,1e-3,2e-3,3e-3,4e-3,5e-3,6e-3,7e-3,8e-3,9e-3,1e-2,2e-2,3e-2,4e-2,5e-2,6e-2,7e-2,8e-2,9e-2,0.1],
"labelExpr":"datum.value==1e-7?'10⁻⁷':datum.value==1e-6?'10⁻⁶':datum.value==1e-5?'10⁻⁵':datum.value==1e-4?'10⁻⁴':datum.value==1e-3?'10⁻³':datum.value==1e-2?'10⁻²':datum.value==0.1?'10⁻¹':''",
"labelPadding":17,"labelFontSize":18,"title":"time / s","titleFontSize":19,"titlePadding":5,
"tickSize":{"condition":{"test":"abs(log(datum.value)/LN10 - round(log(datum.value)/LN10)) < 0.001","value":-8},"value":-4}}},
"y":{"field":"v","type":"quantitative","scale":{"domain":[-0.8,0.4],"nice":false,"zero":false},
"axis":{"values":[-0.8,-0.7,-0.6,-0.5,-0.4,-0.3,-0.2,-0.1,0,0.1,0.2,0.3,0.4],"labelExpr":"round(datum.value*10)%2==0 ? replace(format(datum.value,'.1f'),'−','-') : ''","labelPadding":2,
"tickSize":{"condition":{"test":"round(datum.value*10)%2==0","value":6},"value":3},"title":"Δ mOD","titleX":-60,"titleY":130,"titleBaseline":"middle"}},
"color":{"field":"s","type":"nominal","scale":{"domain":["N","4","9","11","20","30","20s","30s"],"range":["#e070c0","#33bde0","#4452b4","#1aa052","#f0402a","#000000","#f0402a","#000000"]},
"legend":{"values":["N","4","9","11","20","30"],"legendX":23,"legendY":100,"rowPadding":4.6,"labelExpr":"datum.label=='N' ? 'NO PEDOT' : datum.label+' min'"}}}},
{"data":{"values":[{}]},"mark":{"type":"rule","color":"#222","strokeWidth":1.3},"encoding":{"y":{"datum":0}}},
{"data":{"values":[{"label":"(C) probe 920 nm","t":1.39e-7,"v":-0.787}]},"mark":{"type":"text","align":"left","baseline":"alphabetic","fontSize":24,"font":"Liberation Sans"},
"encoding":{"x":{"field":"t","type":"quantitative","axis":{"orient":"top","values":[1e-7,2e-7,3e-7,4e-7,5e-7,6e-7,7e-7,8e-7,9e-7,1e-6,2e-6,3e-6,4e-6,5e-6,6e-6,7e-6,8e-6,9e-6,1e-5,2e-5,3e-5,4e-5,5e-5,6e-5,7e-5,8e-5,9e-5,1e-4,2e-4,3e-4,4e-4,5e-4,6e-4,7e-4,8e-4,9e-4,1e-3,2e-3,3e-3,4e-3,5e-3,6e-3,7e-3,8e-3,9e-3,1e-2,2e-2,3e-2,4e-2,5e-2,6e-2,7e-2,8e-2,9e-2,0.1],"labels":false,"title":null,"tickSize":{"condition":{"test":"abs(log(datum.value)/LN10 - round(log(datum.value)/LN10)) < 0.001","value":-8},"value":-4}}},"y":{"field":"v","type":"quantitative"},"text":{"field":"label"}}}
]}
]
}
